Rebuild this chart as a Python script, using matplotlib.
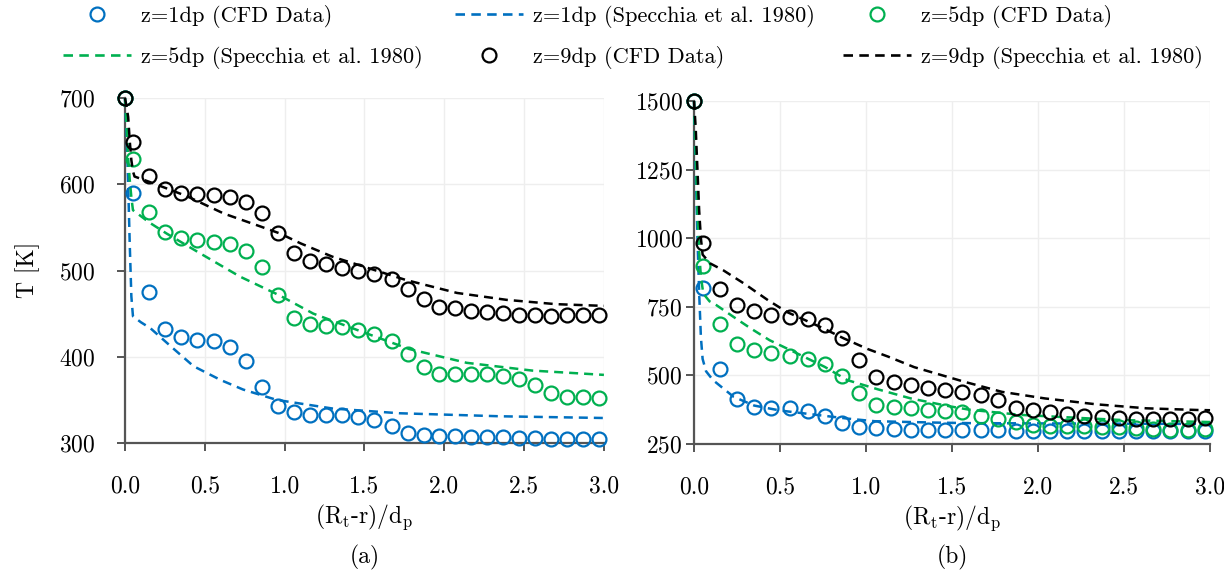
import matplotlib
matplotlib.use("Agg")
import matplotlib.pyplot as plt
from matplotlib.ticker import FormatStrFormatter
from matplotlib.lines import Line2D

plt.rcParams['font.family'] = 'cmr10'
plt.rcParams['mathtext.fontset'] = 'cm'
plt.rcParams['axes.formatter.use_mathtext'] = True
plt.rcParams['axes.unicode_minus'] = False

BLUE = '#0070c0'
GREEN = '#00b050'
BLACK = '#000000'
AXC = '#555555'
FS_TICK = 17
FS_LAB = 17
FS_LEG = 16.1

# radial position of the CFD samples, (Rt-r)/dp
r_cfd = [0.0, 0.05, 0.15, 0.25, 0.35, 0.45, 0.56, 0.66, 0.76, 0.86, 0.96, 1.06,
         1.16, 1.26, 1.36, 1.46, 1.56, 1.67, 1.77, 1.87, 1.97, 2.07, 2.17, 2.27,
         2.37, 2.47, 2.57, 2.67, 2.77, 2.87, 2.97]

# panel (a) - CFD
a_z1 = [700, 590, 475, 432, 423, 420, 418, 411, 395, 365, 343, 336, 333, 333, 332,
        330, 327, 320, 312, 309, 308, 308, 307.5, 307, 307, 306, 305.5, 304.5, 304.5,
        304.5, 305]
a_z5 = [700, 629, 568, 545, 538, 535, 533, 531, 523, 504, 472, 445, 438, 436, 434,
        431, 426, 418, 403, 388, 380, 380, 380, 380, 378, 374, 367, 358, 353, 353, 352]
a_z9 = [700, 649, 610, 594, 590, 589, 587, 585, 579, 567, 544, 520, 511, 507, 503,
        499, 496, 490, 479, 467, 458, 456, 453, 452, 451, 449, 448, 447, 448, 448, 448]

# panel (a) - Specchia et al. 1980
a_s1_r = [0.0, 0.01, 0.02, 0.03, 0.04, 0.05, 0.1, 0.16, 0.3, 0.43, 0.6, 0.74, 0.95,
          1.3, 1.72, 2.35, 3.0]
a_s1 = [700, 660, 600, 530, 470, 447, 440, 433, 410, 389, 373, 362, 350, 340, 334.5,
        331, 329]
a_s5_r = [0.0, 0.01, 0.02, 0.03, 0.04, 0.05, 0.15, 0.26, 0.47, 0.72, 0.97, 1.18,
          1.47, 1.78, 2.14, 2.55, 3.0]
a_s5 = [700, 670, 630, 605, 585, 570, 556, 543, 520, 493, 471, 450, 430, 409, 393,
        384, 379]
a_s9_r = [0.0, 0.01, 0.02, 0.03, 0.04, 0.05, 0.06, 0.15, 0.25, 0.39, 0.62, 0.85,
          0.97, 1.1, 1.3, 1.76, 2.08, 2.39, 2.7, 3.0]
a_s9 = [700, 690, 678, 650, 628, 615, 609, 603, 596, 586, 566, 551, 543, 531.5, 516,
        489, 474, 466, 461, 459]

# panel (b) - CFD
b_z1 = [1500, 820, 522, 413, 386, 380, 380, 371, 352, 325, 311, 307, 304, 302, 302,
        301, 301, 300, 300, 299, 299, 299, 299, 299, 298, 298, 298, 298, 298, 298, 299]
b_z5 = [1500, 898, 687, 616, 592, 580, 570, 558, 541, 497, 437, 392, 386, 380, 375,
        371, 365, 353, 341, 329, 320, 315, 315, 315, 311, 311, 308, 305, 302, 302, 305]
b_z9 = [1500, 983, 813, 758, 735, 721, 712, 704, 683, 637, 556, 493, 477, 465, 455,
        446, 438, 430, 409, 381, 373, 367, 361, 353, 349, 345, 342, 341, 342, 342, 345]

# panel (b) - Specchia et al. 1980
b_s1_r = [0.0, 0.01, 0.02, 0.03, 0.04, 0.05, 0.07, 0.11, 0.23, 0.35, 0.5, 0.7, 0.9,
          1.05, 1.4, 1.6, 2.0, 2.5, 3.0]
b_s1 = [1500, 1250, 1000, 800, 640, 560, 515, 483, 422, 390, 372, 357, 342, 333, 328,
        326, 325, 324, 323]
b_s5_r = [0.0, 0.01, 0.02, 0.03, 0.04, 0.054, 0.09, 0.13, 0.23, 0.33, 0.44, 0.56,
          0.76, 0.89, 1.07, 1.26, 1.48, 1.6, 1.9, 2.3, 2.5, 3.0]
b_s5 = [1500, 1300, 1100, 950, 860, 798, 770, 756, 713, 671, 628, 592, 531, 483, 449,
        416, 388, 375, 356, 343, 337, 330]
b_s9_r = [0.0, 0.01, 0.02, 0.03, 0.04, 0.05, 0.094, 0.17, 0.29, 0.43, 0.54, 0.75,
          0.87, 1.01, 1.13, 1.28, 1.57, 1.79, 2.04, 2.34, 2.63, 2.92, 3.0]
b_s9 = [1500, 1400, 1250, 1100, 1000, 940, 908, 883, 835, 774, 731, 672, 635, 596,
        568, 530, 477, 440, 416, 394.5, 380, 374, 373]

x_ticks = [0.0, 0.5, 1.0, 1.5, 2.0, 2.5, 3.0]
a_yticks = [300, 400, 500, 600, 700]
b_yticks = [250, 500, 750, 1000, 1250, 1500]

labels = ['z=1dp (CFD Data)', 'z=1dp (Specchia et al. 1980)',
          'z=5dp (CFD Data)', 'z=5dp (Specchia et al. 1980)',
          'z=9dp (CFD Data)', 'z=9dp (Specchia et al. 1980)']

DASH = (3.6, 2.4)


def draw(ax, cfd, spec, yticks, ypad):
    colors = [BLUE, GREEN, BLACK]
    for c, y, (sr, sy) in zip(colors, cfd, spec):
        ax.plot(r_cfd, y, ls='none', marker='o', ms=10, mfc='none', mec=c, mew=1.6,
                clip_on=False, zorder=3)
        ax.plot(sr, sy, color=c, lw=1.8, dashes=DASH, zorder=3, clip_on=False)
    ax.set_xlim(0, 3)
    ax.set_ylim(yticks[0], yticks[-1])
    ax.set_xticks(x_ticks)
    ax.set_yticks(yticks)
    ax.xaxis.set_major_formatter(FormatStrFormatter('%.1f'))
    for s in ['top', 'right']:
        ax.spines[s].set_visible(False)
    for s in ['left', 'bottom']:
        ax.spines[s].set_color(AXC)
        ax.spines[s].set_linewidth(1.6)
    ax.tick_params(direction='out', length=6, width=1.4, color=AXC, labelsize=FS_TICK)
    ax.tick_params(axis='x', pad=17)
    ax.tick_params(axis='y', pad=ypad)
    ax.grid(True, color='#eeeeee', lw=1)
    ax.set_axisbelow(True)


fig = plt.figure(figsize=(12.24, 5.72), dpi=100)
ax1 = fig.add_axes([0.1021, 0.2255, 0.3913, 0.6031])
ax2 = fig.add_axes([0.567, 0.2238, 0.4216, 0.5997])

draw(ax1, [a_z1, a_z5, a_z9], [(a_s1_r, a_s1), (a_s5_r, a_s5), (a_s9_r, a_s9)],
     a_yticks, 15)
draw(ax2, [b_z1, b_z5, b_z9], [(b_s1_r, b_s1), (b_s5_r, b_s5), (b_s9_r, b_s9)],
     b_yticks, 2)

xl = r'(R$_\mathrm{t}$-r)/d$_\mathrm{p}$'
for ax, tag, ly in [(ax1, '(a)', -0.332), (ax2, '(b)', -0.331)]:
    ax.set_xlabel(xl, fontsize=FS_LAB, va='top')
    ax.xaxis.set_label_coords(0.5, -0.172)
    ax.text(0.5, ly, tag, transform=ax.transAxes, ha='center', va='center',
            fontsize=FS_LAB)

fig.text(28 / 1224, 1 - 270 / 572, 'T [K]', rotation=90, ha='center', va='center',
         fontsize=FS_LAB)

# legend: three columns laid out row by row
cols = [BLUE, BLUE, GREEN, GREEN, BLACK, BLACK]
handles = []
for i, c in enumerate(cols):
    if i % 2 == 0:
        handles.append(Line2D([], [], ls='none', marker='o', ms=10, mfc='none', mec=c,
                              mew=1.6))
    else:
        handles.append(Line2D([], [], color=c, lw=1.9, dashes=DASH))

groups = [([0, 3], 63), ([1, 4], 455), ([2, 5], 843)]
for idx, xpx in groups:
    fig.legend([handles[i] for i in idx], [labels[i] for i in idx], loc='upper left',
               bbox_to_anchor=(xpx / 1224, 1 - 5 / 572), frameon=False,
               fontsize=FS_LEG, borderpad=0, borderaxespad=0, handlelength=3.05,
               handletextpad=0.42, labelspacing=0.8)

fig.savefig('out.png', dpi=100)
